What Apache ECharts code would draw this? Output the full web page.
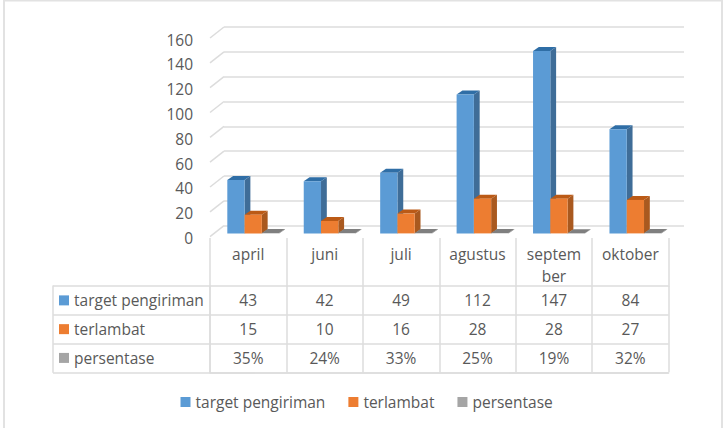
<!DOCTYPE html>
<html>
<head>
<meta charset="utf-8">
<style>
  html, body { margin: 0; padding: 0; background: #fff; }
  #chart { width: 727px; height: 428px; }
</style>
<script src="https://cdn.jsdelivr.net/npm/echarts@6/dist/echarts.min.js"></script>
</head>
<body>
<div id="chart"></div>
<script>
const months = ['april', 'juni', 'juli', 'agustus', 'septem\nber', 'oktober']
const targetPengiriman = [43, 42, 49, 112, 147, 84]
const terlambat = [15, 10, 16, 28, 28, 27]
const persentase = [0.35, 0.24, 0.33, 0.25, 0.19, 0.32]
const yTicks = [0, 20, 40, 60, 80, 100, 120, 140, 160]
const seriesNames = ['target pengiriman', 'terlambat', 'persentase']

const FONT = '"Open Sans", sans-serif'
const FONT_SIZE = 15.5
const TEXT = '#595959'
const LINE = '#dcdcdc'
const front = ['#5b9bd5', '#ed7d31', '#a5a5a5']
const side = ['#3f6d98', '#a9591f', '#777777']
const top3d = ['#2f6ea6', '#bb5a16', '#7f7f7f']

const BAR_RATIO = 0.226
const DEPTH_X = 5.8
const DEPTH_Y = 4

// kolom 3d, tiap seri digeser dari tengah kategori
function bar3d (index) {
  return (params, api) => {
    const cat = api.value(0)
    const topPt = api.coord([cat, api.value(1)])
    const basePt = api.coord([cat, 0])
    const w = api.size([1, 0])[0] * BAR_RATIO
    const x = topPt[0] + (index - 1.5) * w
    const y = topPt[1]
    const h = basePt[1] - y
    return {
      type: 'group',
      children: [
        {
          type: 'polygon',
          shape: { points: [[x + w, y], [x + w + DEPTH_X, y - DEPTH_Y], [x + w + DEPTH_X, y + h - DEPTH_Y], [x + w, y + h]] },
          style: { fill: side[index] }
        },
        {
          type: 'polygon',
          shape: { points: [[x, y], [x + DEPTH_X, y - DEPTH_Y], [x + w + DEPTH_X, y - DEPTH_Y], [x + w, y]] },
          style: { fill: top3d[index] }
        },
        {
          type: 'rect',
          shape: { x: x, y: y, width: w, height: h },
          style: { fill: front[index] }
        }
      ]
    }
  }
}

function barSeries (index, values) {
  return {
    type: 'custom',
    name: seriesNames[index],
    xAxisIndex: 2,
    yAxisIndex: 2,
    itemStyle: { color: front[index] },
    renderItem: bar3d(index),
    data: values.map((v, i) => [i, v])
  }
}

const tableRows = [
  targetPengiriman.map(String),
  terlambat.map(String),
  persentase.map(v => Math.round(v * 100) + '%')
]
const cells = []
tableRows.forEach((row, r) => row.forEach((t, c) => cells.push([c, r, t])))

const options = {
  animation: false,
  backgroundColor: '#fff',
  textStyle: { fontFamily: FONT },
  // bingkai gambar
  graphic: [
    {
      type: 'polyline',
      silent: true,
      shape: { points: [[4, 428], [4, 0.5], [722, 0.5], [722, 428]] },
      style: { fill: 'none', stroke: '#e2e2e2', lineWidth: 2 }
    }
  ],
  legend: {
    data: seriesNames,
    left: 175.5,
    top: 389,
    icon: 'rect',
    itemWidth: 10,
    itemHeight: 10,
    itemGap: 23,
    textStyle: { color: TEXT, fontSize: FONT_SIZE, fontFamily: FONT }
  },
  grid: [
    { left: 224, top: 27, width: 460, height: 198.7 }, // dinding belakang
    { left: 210, top: 39.5, width: 458.6, height: 198.4 }, // label sumbu
    { left: 215, top: 35, width: 458.6, height: 198.4 }, // kolom
    { left: 210, top: 286, width: 458.6, height: 86.3 } // tabel
  ],
  xAxis: [
    { gridIndex: 0, type: 'value', min: 0, max: 1, show: false },
    {
      gridIndex: 1,
      type: 'category',
      data: months,
      axisLine: { show: false },
      axisTick: { show: true, length: 48.5, lineStyle: { color: LINE, width: 1.5 } },
      axisLabel: { interval: 0, margin: 5.5, color: TEXT, fontSize: FONT_SIZE, lineHeight: 21.7, fontFamily: FONT }
    },
    { gridIndex: 2, type: 'category', data: months, show: false },
    {
      gridIndex: 3,
      type: 'category',
      data: months,
      axisLine: { show: true, lineStyle: { color: LINE, width: 1.5 } },
      axisTick: { show: false },
      axisLabel: { show: false },
      splitLine: { show: true, interval: 0, lineStyle: { color: LINE, width: 1.5 } }
    }
  ],
  yAxis: [
    {
      gridIndex: 0,
      type: 'value',
      min: 0,
      max: 160,
      interval: 20,
      axisLine: { show: false },
      axisTick: { show: false },
      axisLabel: { show: false },
      splitLine: { lineStyle: { color: LINE, width: 1.5 } }
    },
    {
      gridIndex: 1,
      type: 'value',
      min: 0,
      max: 160,
      interval: 20,
      axisLine: { show: false },
      axisTick: { show: false },
      splitLine: { show: false },
      axisLabel: { margin: 17, color: TEXT, fontSize: FONT_SIZE, fontFamily: FONT }
    },
    { gridIndex: 2, type: 'value', min: 0, max: 160, show: false },
    {
      gridIndex: 3,
      type: 'category',
      inverse: true,
      data: seriesNames,
      axisLine: { show: true, lineStyle: { color: LINE, width: 1.5 } },
      axisTick: { show: true, length: 157, lineStyle: { color: LINE, width: 1.5 } },
      splitLine: { show: true, interval: 0, lineStyle: { color: LINE, width: 1.5 } },
      axisLabel: {
        interval: 0,
        align: 'left',
        margin: 151,
        formatter: (value, i) => `{s${i}|}{t|${value}}`,
        rich: {
          s0: { backgroundColor: front[0], width: 10, height: 10 },
          s1: { backgroundColor: front[1], width: 10, height: 10 },
          s2: { backgroundColor: front[2], width: 10, height: 10 },
          t: { color: TEXT, fontSize: FONT_SIZE, fontFamily: FONT, padding: [0, 0, 0, 5] }
        }
      }
    },
    {
      gridIndex: 3,
      type: 'category',
      position: 'left',
      offset: 157,
      data: seriesNames,
      axisLine: { show: true, lineStyle: { color: LINE, width: 1.5 } },
      axisTick: { show: false },
      axisLabel: { show: false }
    }
  ],
  series: [
    {
      // garis miring dari lantai ke dinding belakang
      type: 'custom',
      xAxisIndex: 0,
      yAxisIndex: 0,
      silent: true,
      clip: false,
      renderItem: (params, api) => {
        const p = api.coord([0, api.value(0)])
        return {
          type: 'line',
          shape: { x1: p[0], y1: p[1], x2: p[0] - 14, y2: p[1] + 11 },
          style: { stroke: LINE, lineWidth: 1.5 }
        }
      },
      data: yTicks.map(v => [v])
    },
    barSeries(0, targetPengiriman),
    barSeries(1, terlambat),
    barSeries(2, persentase),
    {
      type: 'custom',
      xAxisIndex: 3,
      yAxisIndex: 3,
      silent: true,
      renderItem: (params, api) => {
        const p = api.coord([api.value(0), api.value(1)])
        return {
          type: 'text',
          style: {
            x: p[0],
            y: p[1],
            text: cells[params.dataIndex][2],
            fill: TEXT,
            font: FONT_SIZE + 'px ' + FONT,
            textAlign: 'center',
            textVerticalAlign: 'middle'
          }
        }
      },
      data: cells
    }
  ]
}

const myChart = echarts.init(document.getElementById('chart'), null, { renderer: 'svg' })
myChart.setOption(options)
window.addEventListener('resize', () => {
  myChart.resize()
})
</script>
</body>
</html>
